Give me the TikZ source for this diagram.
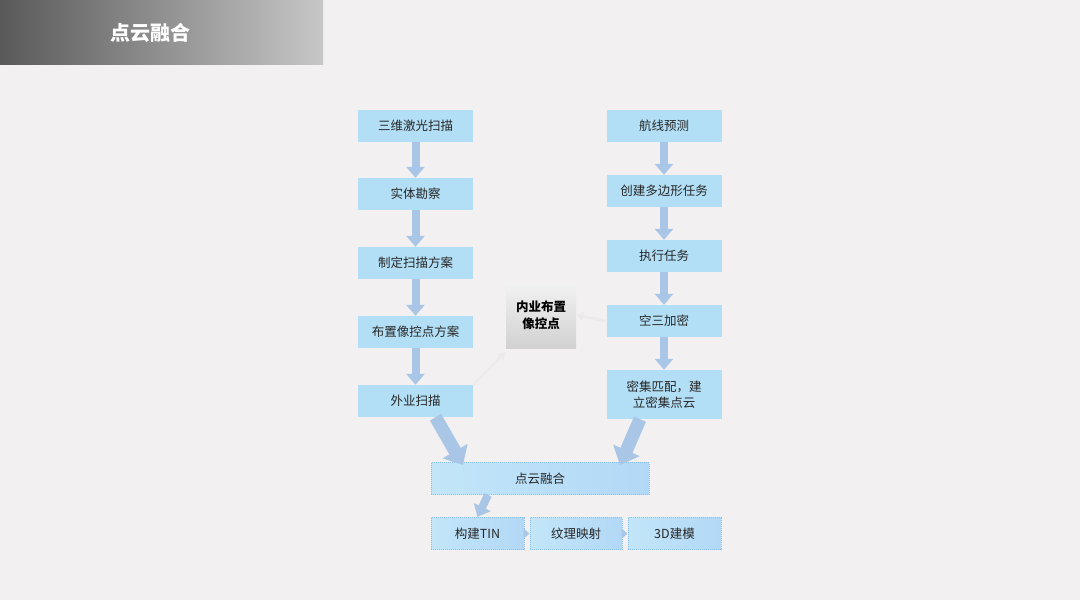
\documentclass[tikz,border=0pt]{standalone}
\usepackage{fontspec}
\setmainfont{Noto Sans CJK SC}
\usetikzlibrary{arrows.meta}
\definecolor{bg}{HTML}{F2F0F0}
\definecolor{boxc}{HTML}{B3DFF6}
\definecolor{arr}{HTML}{A9C6E6}
\definecolor{dotb}{HTML}{8CC4EC}
\tikzset{
 pbox/.style={fill=boxc, minimum width=115pt, minimum height=32pt, inner sep=0pt, font=\fontsize{12.5pt}{16pt}\selectfont, text=black!85, align=center},
 fbox/.style={left color=boxc!80!white, right color=boxc!95!blue!90!white, draw=dotb, densely dotted, line width=1pt, inner sep=0pt, font=\fontsize{12.5pt}{16pt}\selectfont, text=black!85, minimum height=32pt},
 fat/.style={draw=arr, line width=8pt, -{Triangle[width=18pt,length=11pt]}},
 huge/.style={draw=arr, line width=13pt, -{Triangle[width=28pt,length=16pt]}},
 thin/.style={draw=black!8, line width=2.5pt, -{Triangle[width=8pt,length=7pt]}},
 small/.style={draw=arr, line width=4pt, -{Triangle[width=10pt,length=6pt]}}
}
\begin{document}
\begin{tikzpicture}[x=1pt,y=-1pt]
\fill[bg] (0,0) rectangle (1080,600);
\shade[left color=black!65, right color=black!22] (0,0) rectangle (323,64);
\node[text=white, font=\bfseries\fontsize{20pt}{24pt}\selectfont] (title) at (150,33) {点云融合};
\node[pbox] (a1) at (415.5,126) {三维激光扫描};
\node[pbox] (a2) at (415.5,194) {实体勘察};
\node[pbox] (a3) at (415.5,263) {制定扫描方案};
\node[pbox] (a4) at (415.5,332) {布置像控点方案};
\node[pbox] (a5) at (415.5,401) {外业扫描};
\node[pbox] (b1) at (664,126) {航线预测};
\node[pbox] (b2) at (664,191) {创建多边形任务};
\node[pbox] (b3) at (664,256) {执行任务};
\node[pbox] (b4) at (664,321) {空三加密};
\node[pbox, minimum height=49pt] (b5) at (664,394.5) {密集匹配，建\\立密集点云};
\node[top color=white!95!black, bottom color=black!18, minimum width=70pt, minimum height=66pt, inner sep=0pt, align=center, font=\bfseries\fontsize{12.5pt}{17pt}\selectfont] (m) at (541,315) {内业布置\\像控点};
\node[fbox, minimum width=218pt] (f) at (540,478.5) {点云融合};
\node[fbox, minimum width=93pt] (c1) at (477.5,533.5) {构建TIN};
\node[fbox, minimum width=92pt] (c2) at (576,533.5) {纹理映射};
\node[fbox, minimum width=93pt] (c3) at (674.5,533.5) {3D建模};
\foreach \u/\v in {a1/a2,a2/a3,a3/a4,a4/a5,b1/b2,b2/b3,b3/b4,b4/b5}
  \draw[fat] (\u.south) -- (\v.north);
\draw[huge] ([xshift=20pt]a5.south) -- ([xshift=-77pt,yshift=-3pt]f.north);
\draw[huge] ([xshift=-24pt]b5.south) -- ([xshift=80pt,yshift=-3pt]f.north);
\draw[thin] (a5.north east) -- ([yshift=-4pt]m.south west);
\draw[thin] (b4.west) -- (m.east);
\draw[fat] ([xshift=-52pt]f.south) -- (c1.north);
\draw[small] (c1.east) -- (c2.west);
\draw[small] (c2.east) -- (c3.west);
\end{tikzpicture}
\end{document}
